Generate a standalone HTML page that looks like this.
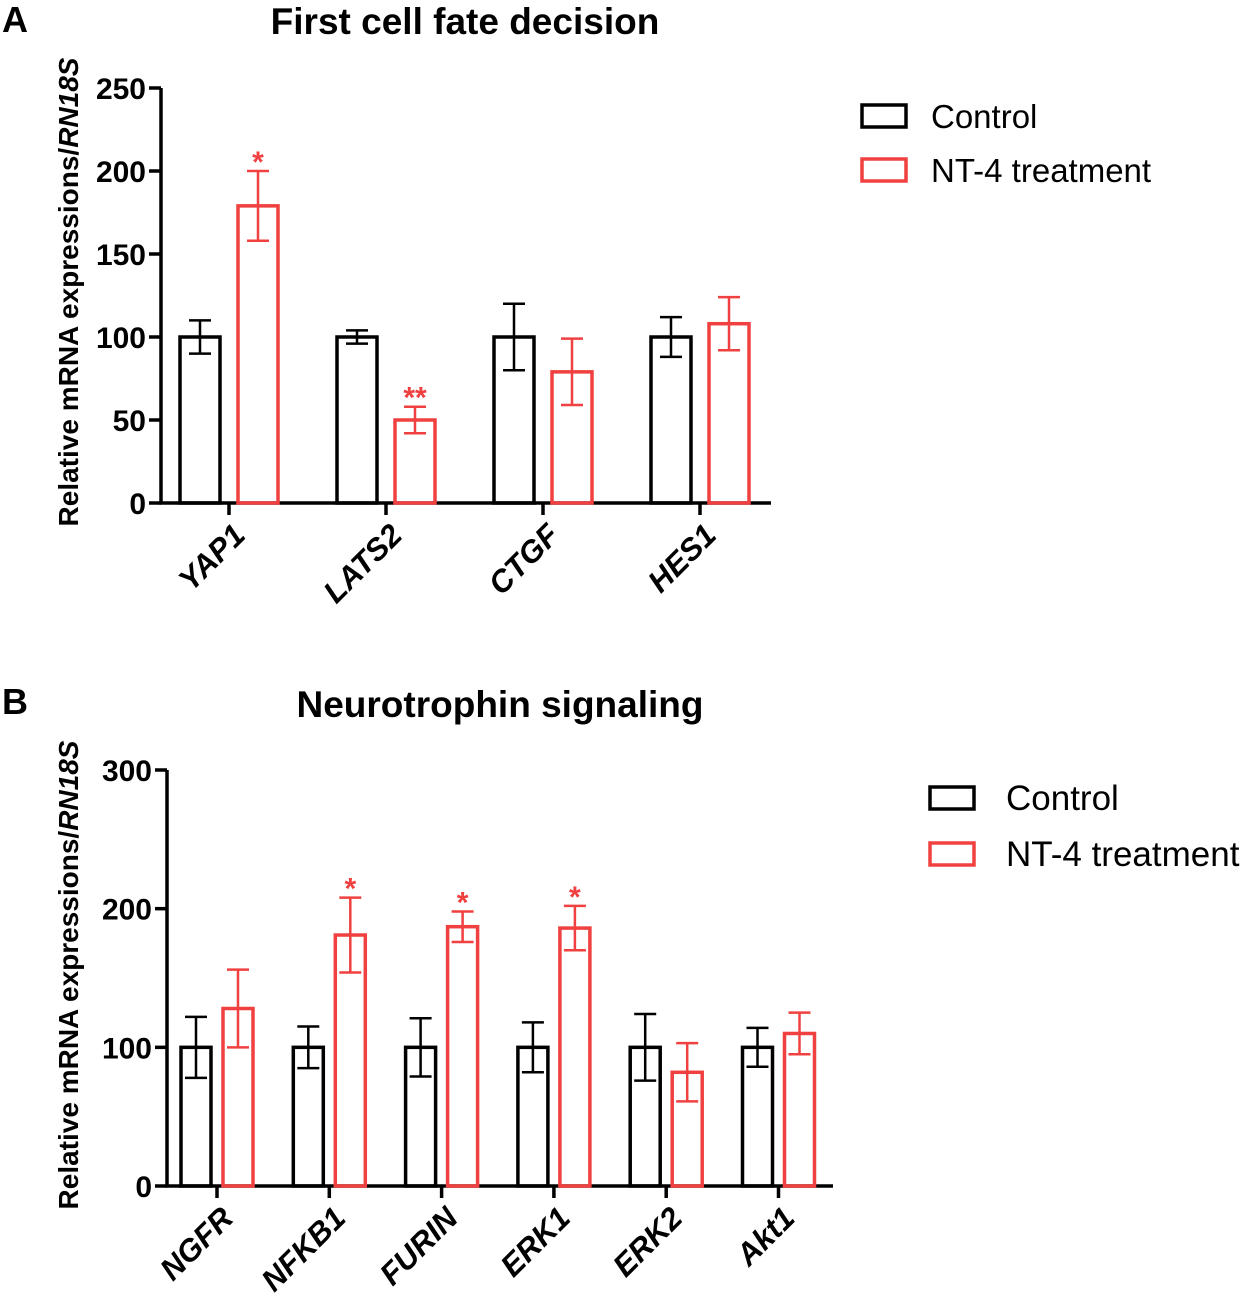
<!DOCTYPE html>
<html><head><meta charset="utf-8"><style>
body{margin:0;background:#fff}
svg text{font-family:"Liberation Sans",Arial,sans-serif}
</style></head><body>
<svg id="s" width="1246" height="1301" viewBox="0 0 1246 1301" xmlns="http://www.w3.org/2000/svg">
<text x="2" y="32" font-size="36" font-weight="bold">A</text>
<text x="465" y="34" font-size="37" font-weight="bold" text-anchor="middle">First cell fate decision</text>
<text x="2" y="714" font-size="36" font-weight="bold">B</text>
<text x="500" y="717" font-size="37" font-weight="bold" text-anchor="middle">Neurotrophin signaling</text>
<g id="ga"></g><g id="gb"></g>
</svg>
<script>
const catsA=["YAP1","LATS2","CTGF","HES1"];
const ctrlA=[100,100,100,100];
const ctrlErrA=[10,4,20,12];
const ntA=[179,50,79,108];
const ntErrA=[21,8,20,16];
const sigA=["*","**","",""];
const ticksA=[0,50,100,150,200,250];

const catsB=["NGFR","NFKB1","FURIN","ERK1","ERK2","Akt1"];
const ctrlB=[100,100,100,100,100,100];
const ctrlErrB=[22,15,21,18,24,14];
const ntB=[128,181,187,186,82,110];
const ntErrB=[28,27,11,16,21,15];
const sigB=["","*","*","*","",""];
const ticksB=[0,100,200,300];

const NS="http://www.w3.org/2000/svg";
function mk(p,t,a){const e=document.createElementNS(NS,t);for(const k in a)e.setAttribute(k,a[k]);p.appendChild(e);return e;}
function chart(g,o){
  const y=v=>o.y0-(v/o.ymax)*(o.y0-o.yTop);
  const cx=i=>o.firstCenter+i*o.step;
  const ax=mk(g,'path',{d:`M${o.ax} ${o.yTop} V${o.y0} H${o.xEnd}`,fill:'none',stroke:'#000','stroke-width':3.5});
  
  o.ticks.forEach(t=>{
    const l=mk(g,'line',{x1:o.ax-12,x2:o.ax,y1:y(t),y2:y(t),stroke:'#000','stroke-width':3.5});
    
    const tx=mk(g,'text',{x:o.ax-15,y:y(t)+11,'font-size':30,'font-weight':'bold','text-anchor':'end'});
    
    tx.textContent=t;
  });
  const yl=mk(g,'text',{transform:`translate(${o.ylx},${o.ylc}) rotate(-90)`,'font-size':28,'font-weight':'bold','text-anchor':'middle'});
  
  yl.innerHTML='Relative mRNA expressions/<tspan font-style="italic">RN18S</tspan>';
  o.cats.forEach((c,i)=>{
    const x=cx(i);
    const tk=mk(g,'line',{x1:x,x2:x,y1:o.y0,y2:o.y0+12,stroke:'#000','stroke-width':3.5});
    
    const lb=mk(g,'text',{transform:`translate(${x+18},${o.y0+34}) rotate(-45)`,'font-size':31,'font-weight':'bold','font-style':'italic','text-anchor':'end'});
    
    lb.textContent=c;
    [[o.ctrl[i],o.ctrlErr[i],'#000',x-o.off,'bar-control'],[o.nt[i],o.ntErr[i],'#f04040',x+o.off,'bar-nt4']].forEach(([v,e,col,bx,nm])=>{
      const r=mk(g,'rect',{x:bx-o.bw/2,y:y(v),width:o.bw,height:o.y0-y(v),fill:'none',stroke:col,'stroke-width':3.5});
      
      const eb=mk(g,'path',{d:`M${bx} ${y(v-e)} V${y(v+e)} M${bx-11} ${y(v+e)} H${bx+11} M${bx-11} ${y(v-e)} H${bx+11}`,stroke:col,'stroke-width':2.5,fill:'none'});
      
    });
    if(o.sig[i]){
      const s=mk(g,'text',{x:x+o.off,y:y(o.nt[i]+o.ntErr[i])+1,'font-size':30,'font-weight':'bold',fill:'#f04040','text-anchor':'middle'});
      
      s.textContent=o.sig[i];
    }
  });
  [['Control','#000',0],['NT-4 treatment','#f04040',1]].forEach(([t,col,k])=>{
    const yy=o.legY+k*o.legGap;
    const r=mk(g,'rect',{x:o.legX,y:yy-11,width:44,height:22,fill:'none',stroke:col,'stroke-width':3.5});
    
    const tx=mk(g,'text',{x:o.legX+o.legTx,y:yy+12,'font-size':o.legFs});
    
    tx.textContent=t;
  });
}
chart(document.getElementById('ga'),{cats:catsA,ctrl:ctrlA,ctrlErr:ctrlErrA,nt:ntA,ntErr:ntErrA,sig:sigA,ticks:ticksA,ymax:250,
  y0:503,yTop:88,ax:161,xEnd:771,firstCenter:229,step:157,off:29,bw:40,ylx:78,ylc:292,legX:862,legY:116,legGap:54,legFs:33,legTx:69});
chart(document.getElementById('gb'),{cats:catsB,ctrl:ctrlB,ctrlErr:ctrlErrB,nt:ntB,ntErr:ntErrB,sig:sigB,ticks:ticksB,ymax:300,
  y0:1186,yTop:770,ax:167,xEnd:833,firstCenter:217,step:112.3,off:21,bw:30,ylx:78,ylc:975,legX:930,legY:798,legGap:56,legFs:35,legTx:76});
</script>
</body></html>
